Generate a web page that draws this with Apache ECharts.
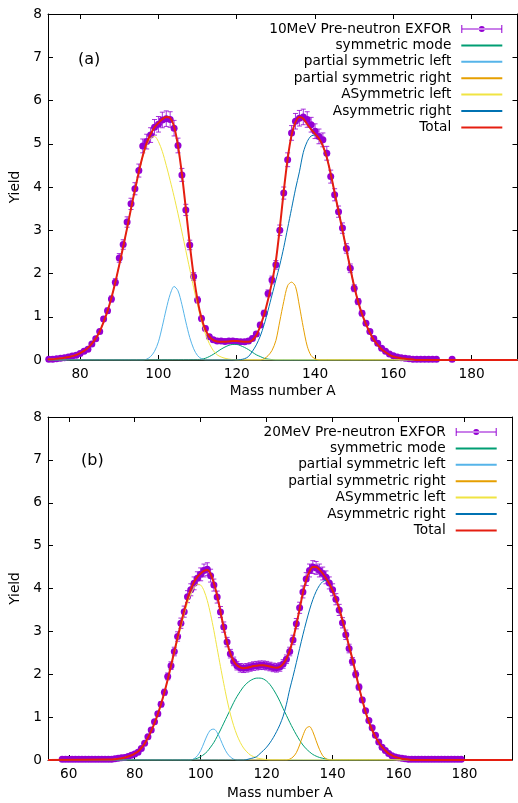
<!DOCTYPE html>
<html>
<head>
<meta charset="utf-8">
<script src="https://cdn.jsdelivr.net/npm/echarts@6/dist/echarts.min.js"></script>
<style>
html,body{margin:0;padding:0;background:#fff;}
#chart{width:518px;height:803px;}
</style>
</head>
<body>
<div id="chart"></div>
<script>
// ---------------- Panel (a): 10 MeV ----------------
const aMassStart = 72;
const aYield = [
  0.02,0.02,0.03,0.04,0.05,0.07,0.09,0.11,0.15,0.2,
  0.25,0.37,0.49,0.66,0.95,1.14,1.41,1.8,2.36,2.67,
  3.19,3.61,3.96,4.38,4.95,5.05,5.2,5.38,5.45,5.55,
  5.58,5.56,5.36,4.96,4.28,3.47,2.66,1.93,1.39,0.96,
  0.73,0.54,0.47,0.44,0.44,0.43,0.44,0.44,0.43,0.42,
  0.42,0.44,0.5,0.6,0.81,1.08,1.54,1.85,2.2,3.0,
  3.86,4.63,5.25,5.52,5.59,5.62,5.56,5.44,5.29,5.17,
  5.09,4.78,4.24,3.82,3.43,3.05,2.58,2.12,1.66,1.35,
  1.08,0.85,0.66,0.5,0.39,0.27,0.2,0.14,0.1,0.07,
  0.05,0.04,0.03,0.02,0.02,0.02,0.02,0.02,0.02,0.02
];
const aErr = [
  0.01,0.01,0.01,0.01,0.01,0.01,0.01,0.01,0.01,0.02,
  0.02,0.03,0.03,0.04,0.05,0.06,0.07,0.08,0.1,0.11,
  0.12,0.13,0.14,0.15,0.16,0.17,0.17,0.18,0.18,0.18,
  0.18,0.18,0.18,0.17,0.15,0.13,0.11,0.09,0.07,0.06,
  0.05,0.05,0.05,0.05,0.05,0.05,0.05,0.05,0.05,0.05,
  0.05,0.05,0.05,0.05,0.06,0.07,0.08,0.09,0.1,0.12,
  0.14,0.16,0.17,0.18,0.18,0.18,0.18,0.17,0.17,0.17,
  0.16,0.16,0.15,0.14,0.13,0.12,0.11,0.1,0.08,0.07,
  0.06,0.05,0.04,0.03,0.03,0.02,0.02,0.01,0.01,0.01,
  0.01,0.01,0.01,0.01,0.01,0.01,0.01,0.01,0.01,0.01
];
const aExtraMass = [175];
const aExtraYield = [0.02];
const aExtraErr = [0.01];

const aSymStart = 110;
const aSym = [0.01,0.02,0.04,0.08,0.13,0.19,0.25,0.3,0.34,0.36,
              0.36,0.33,0.29,0.24,0.18,0.12,0.08,0.04,0.02,0.01,0];
const aPsLStart = 96;
const aPsL = [0,0.02,0.08,0.2,0.42,0.78,1.18,1.52,1.7,1.6,
              1.28,0.88,0.52,0.26,0.1,0.03,0];
const aPsRStart = 126;
const aPsR = [0,0.03,0.1,0.22,0.45,0.9,1.35,1.72,1.8,1.7,
              1.25,0.75,0.32,0.1,0.03,0];
const aAsLStart = 72;
const aAsL = [
  0.02,0.02,0.03,0.04,0.05,0.07,0.09,0.12,0.16,0.21,
  0.28,0.38,0.5,0.66,0.88,1.13,1.44,1.8,2.2,2.62,
  3.05,3.5,3.93,4.33,4.7,4.97,5.13,5.17,5.05,4.82,
  4.5,4.15,3.78,3.38,2.96,2.53,2.1,1.67,1.27,0.9,
  0.6,0.38,0.22,0.12,0.07,0.04,0.02,0.01,0
];
const aAsRStart = 120;
const aAsR = [
  0,0.01,0.03,0.08,0.2,0.35,0.55,0.82,1.15,1.5,
  1.85,2.2,2.6,3.05,3.5,3.95,4.35,4.8,5.05,5.18,
  5.2,5.12,4.95,4.68,4.3,3.87,3.44,3.0,2.56,2.12,
  1.7,1.35,1.06,0.83,0.63,0.47,0.35,0.25,0.18,0.12,
  0.08,0.06,0.04,0.03,0.02,0.01,0
];
const aTotStart = 72;
const aTot = [
  0.02,0.02,0.03,0.04,0.05,0.07,0.09,0.12,0.16,0.21,
  0.28,0.38,0.5,0.66,0.88,1.13,1.44,1.8,2.2,2.62,
  3.05,3.5,3.93,4.35,4.72,5.02,5.22,5.38,5.48,5.57,
  5.62,5.6,5.4,4.95,4.3,3.5,2.68,1.95,1.38,0.97,
  0.7,0.54,0.46,0.43,0.42,0.42,0.43,0.44,0.44,0.43,
  0.42,0.42,0.46,0.57,0.78,1.05,1.4,1.8,2.3,3.05,
  3.9,4.65,5.2,5.5,5.62,5.58,5.45,5.33,5.23,5.12,
  4.95,4.68,4.3,3.87,3.44,3.0,2.56,2.12,1.7,1.35,
  1.06,0.83,0.63,0.47,0.35,0.25,0.18,0.12,0.08,0.06,
  0.04,0.03,0.02,0.01,0
];

// ---------------- Panel (b): 20 MeV ----------------
const bMassStart = 58;
const bYield = [
  0.02,0.02,0.02,0.02,0.02,0.02,0.02,0.02,0.02,0.02,
  0.02,0.02,0.02,0.02,0.02,0.02,0.03,0.04,0.05,0.06,
  0.08,0.11,0.14,0.18,0.27,0.39,0.54,0.7,0.89,1.08,
  1.3,1.58,1.95,2.2,2.53,2.88,3.19,3.46,3.81,3.97,
  4.12,4.24,4.33,4.42,4.45,4.3,4.08,3.8,3.45,3.1,
  2.75,2.48,2.3,2.2,2.15,2.14,2.15,2.17,2.19,2.2,
  2.21,2.21,2.2,2.18,2.16,2.15,2.17,2.24,2.35,2.53,
  2.8,3.18,3.55,3.92,4.22,4.42,4.5,4.48,4.42,4.35,
  4.26,4.13,3.97,3.75,3.5,3.2,2.92,2.6,2.3,2.0,
  1.7,1.4,1.15,0.92,0.75,0.58,0.42,0.3,0.22,0.15,
  0.1,0.07,0.05,0.04,0.03,0.02,0.02,0.02,0.02,0.02,
  0.02,0.02,0.02,0.02,0.02,0.02,0.02,0.02,0.02,0.02,
  0.02,0.02
];
const bErr = [
  0.01,0.01,0.01,0.01,0.01,0.01,0.01,0.01,0.01,0.01,
  0.01,0.01,0.01,0.01,0.01,0.01,0.01,0.01,0.01,0.01,
  0.01,0.01,0.01,0.01,0.02,0.02,0.03,0.04,0.04,0.05,
  0.06,0.07,0.08,0.09,0.1,0.11,0.12,0.13,0.14,0.14,
  0.15,0.15,0.15,0.15,0.15,0.15,0.14,0.14,0.13,0.12,
  0.11,0.1,0.1,0.1,0.1,0.1,0.1,0.1,0.1,0.1,
  0.1,0.1,0.1,0.1,0.1,0.1,0.1,0.1,0.1,0.1,
  0.11,0.12,0.13,0.14,0.15,0.15,0.15,0.15,0.15,0.15,
  0.15,0.14,0.14,0.13,0.13,0.12,0.11,0.1,0.09,0.08,
  0.07,0.06,0.05,0.04,0.04,0.03,0.02,0.02,0.01,0.01,
  0.01,0.01,0.01,0.01,0.01,0.01,0.01,0.01,0.01,0.01,
  0.01,0.01,0.01,0.01,0.01,0.01,0.01,0.01,0.01,0.01,
  0.01,0.01
];
const bSymStart = 97;
const bSym = [
  0,0.02,0.04,0.08,0.13,0.2,0.3,0.41,0.55,0.7,
  0.86,1.02,1.18,1.34,1.48,1.6,1.71,1.79,1.85,1.89,
  1.91,1.91,1.89,1.84,1.76,1.65,1.52,1.37,1.2,1.04,
  0.88,0.73,0.59,0.46,0.35,0.26,0.19,0.13,0.09,0.06,
  0.04,0.02,0.01,0
];
const bPsLStart = 97;
const bPsL = [0,0.03,0.1,0.22,0.4,0.58,0.7,0.72,0.64,0.48,
              0.3,0.16,0.07,0.02,0];
const bPsRStart = 126;
const bPsR = [0,0.02,0.07,0.17,0.35,0.57,0.74,0.78,0.66,0.45,
              0.25,0.1,0.03,0];
const bAsLStart = 72;
const bAsL = [
  0.01,0.01,0.02,0.03,0.04,0.06,0.08,0.11,0.15,0.2,
  0.28,0.38,0.52,0.68,0.86,1.07,1.31,1.57,1.86,2.17,
  2.48,2.8,3.1,3.4,3.66,3.87,4.02,4.1,4.08,3.95,
  3.72,3.4,3.02,2.6,2.18,1.78,1.4,1.07,0.8,0.58,
  0.41,0.28,0.19,0.12,0.08,0.05,0.03,0.02,0.01,0
];
const bAsRStart = 113;
const bAsR = [
  0,0.01,0.03,0.05,0.08,0.15,0.22,0.3,0.4,0.52,
  0.66,0.82,1.02,1.3,1.65,1.95,2.27,2.6,2.92,3.22,
  3.5,3.74,3.93,4.07,4.16,4.19,4.1,3.95,3.76,3.53,
  3.26,2.96,2.65,2.36,2.03,1.7,1.4,1.12,0.89,0.7,
  0.54,0.41,0.3,0.22,0.15,0.11,0.07,0.05,0.03,0.02,
  0.01,0
];
const bTotStart = 72;
const bTot = [
  0.01,0.01,0.02,0.03,0.04,0.06,0.08,0.11,0.15,0.2,
  0.28,0.38,0.52,0.68,0.86,1.07,1.31,1.58,1.88,2.2,
  2.53,2.86,3.18,3.48,3.76,3.98,4.15,4.27,4.35,4.41,
  4.43,4.34,4.13,3.83,3.46,3.08,2.74,2.48,2.31,2.21,
  2.16,2.14,2.15,2.17,2.19,2.2,2.21,2.21,2.2,2.18,
  2.16,2.15,2.17,2.24,2.36,2.55,2.82,3.15,3.52,3.9,
  4.2,4.4,4.5,4.5,4.44,4.35,4.24,4.11,3.95,3.76,
  3.53,3.26,2.96,2.65,2.36,2.03,1.7,1.4,1.12,0.89,
  0.7,0.54,0.41,0.3,0.22,0.15,0.11,0.07,0.05,0.03,
  0.02,0.01,0
];

// ---------------- Axes / labels ----------------
const aXRange = [71.8, 191.7];
const bXRange = [53.7, 194.4];
const aXTicks = [80, 100, 120, 140, 160, 180];
const bXTicks = [60, 80, 100, 120, 140, 160, 180];
const compNames = ['symmetric mode', 'partial symmetric left', 'partial symmetric right', 'ASymmetric left', 'Asymmetric right'];
const compColors = ['#009e73', '#56b4e9', '#e69f00', '#f0e442', '#0072b2'];
const totalName = 'Total';
const aExpName = '10MeV Pre-neutron EXFOR';
const bExpName = '20MeV Pre-neutron EXFOR';

// ---------------- helpers ----------------
const FONT = 'DejaVu Sans';
const FS = 13.7;
function pairs(start, vals) { return vals.map((v, i) => [start + i, v]); }
function padded(start, vals, range) {
  return [[range[0], 0]].concat(pairs(start, vals), [[range[1], 0]]);
}

const aPts = pairs(aMassStart, aYield).map((p, i) => [p[0], p[1], aErr[i]])
  .concat(aExtraMass.map((m, i) => [m, aExtraYield[i], aExtraErr[i]]));
const bPts = pairs(bMassStart, bYield).map((p, i) => [p[0], p[1], bErr[i]]);

const EXP_COLOR = '#9400d3';
const expIcon = 'path://M0,3L1,3L1,6.5L40,6.5L40,3L41,3L41,11L40,11L40,7.5L1,7.5L1,11L0,11Z M17.5,7A3,3 0 1,0 23.5,7A3,3 0 1,0 17.5,7Z';

function errRender(params, api) {
  const x = api.value(0), y = api.value(1), e = api.value(2);
  const t = api.coord([x, y + e]);
  const b = api.coord([x, y - e]);
  const cw = 2.5;
  const st = { stroke: EXP_COLOR, lineWidth: 1, opacity: 0.8 };
  return {
    type: 'group',
    children: [
      { type: 'line', shape: { x1: t[0], y1: t[1], x2: b[0], y2: b[1] }, style: st },
      { type: 'line', shape: { x1: t[0] - cw, y1: t[1], x2: t[0] + cw, y2: t[1] }, style: st },
      { type: 'line', shape: { x1: b[0] - cw, y1: b[1], x2: b[0] + cw, y2: b[1] }, style: st }
    ]
  };
}

function panelSeries(gi, expName, pts, comps, tot, range) {
  const s = [];
  s.push({
    type: 'custom', name: expName, xAxisIndex: gi * 2, yAxisIndex: gi * 2,
    data: pts, encode: { x: 0, y: 1 }, renderItem: errRender, clip: true,
    itemStyle: { color: EXP_COLOR }, silent: true
  });
  s.push({
    type: 'scatter', name: expName, xAxisIndex: gi * 2, yAxisIndex: gi * 2,
    data: pts.map(p => [p[0], p[1]]), symbol: 'circle', symbolSize: 7,
    itemStyle: { color: EXP_COLOR, opacity: 1 }, silent: true
  });
  comps.forEach((c, k) => {
    s.push({
      type: 'line', name: compNames[k], xAxisIndex: gi * 2, yAxisIndex: gi * 2,
      data: padded(c[0], c[1], range), symbol: 'none', smooth: 0.3,
      lineStyle: { color: compColors[k], width: 1 }, itemStyle: { color: compColors[k] }, silent: true
    });
  });
  s.push({
    type: 'line', name: totalName, xAxisIndex: gi * 2, yAxisIndex: gi * 2,
    data: padded(tot[0], tot[1], range), symbol: 'none', smooth: 0.3,
    lineStyle: { color: '#e51e10', width: 2 }, itemStyle: { color: '#e51e10' }, silent: true
  });
  return s;
}

function xAxes(gi, range, ticks, nameGap) {
  const base = {
    gridIndex: gi, type: 'value', min: range[0], max: range[1],
    splitLine: { show: false },
    axisLine: { show: true, onZero: false, lineStyle: { color: '#000', width: 1 } }
  };
  return [
    Object.assign({}, base, {
      position: 'bottom',
      axisTick: { show: true, inside: true, length: 5, lineStyle: { color: '#000' }, customValues: ticks },
      axisLabel: { show: true, customValues: ticks, color: '#000', fontSize: FS, fontFamily: FONT, margin: 7 },
      name: 'Mass number A', nameLocation: 'middle', nameGap: nameGap,
      nameTextStyle: { color: '#000', fontSize: FS, fontFamily: FONT }
    }),
    Object.assign({}, base, {
      position: 'top',
      axisTick: { show: true, inside: true, length: 5, lineStyle: { color: '#000' }, customValues: ticks },
      axisLabel: { show: false }
    })
  ];
}
function yAxes(gi) {
  const base = {
    gridIndex: gi, type: 'value', min: 0, max: 8, interval: 1,
    splitLine: { show: false },
    axisLine: { show: true, onZero: false, lineStyle: { color: '#000', width: 1 } },
    axisTick: { show: true, inside: true, length: 5, lineStyle: { color: '#000' } }
  };
  return [
    Object.assign({}, base, {
      position: 'left',
      axisLabel: { show: true, color: '#000', fontSize: FS, fontFamily: FONT, margin: 6 },
      name: 'Yield', nameLocation: 'middle', nameGap: 22, nameRotate: 90,
      nameTextStyle: { color: '#000', fontSize: FS, fontFamily: FONT }
    }),
    Object.assign({}, base, { position: 'right', axisLabel: { show: false } })
  ];
}

function legendFor(expName, right, top) {
  const lineItems = compNames.concat([totalName]).map(n => ({ name: n, itemStyle: { opacity: 0 } }));
  return {
    orient: 'vertical', align: 'right', right: right, top: top, padding: 0,
    itemWidth: 41, itemHeight: 14, itemGap: 2.4, selectedMode: false,
    textStyle: { color: '#000', fontSize: FS, fontFamily: FONT, padding: [0, 5, 0, 0] },
    data: [{ name: expName, icon: expIcon }].concat(lineItems)
  };
}

const chart = echarts.init(document.getElementById('chart'), null, { renderer: 'canvas' });
chart.setOption({
  animation: false,
  backgroundColor: '#fff',
  grid: [
    { left: 48, top: 14, width: 469.5, height: 346, show: false },
    { left: 48, top: 417, width: 464, height: 343, show: false }
  ],
  xAxis: xAxes(0, aXRange, aXTicks, 24).concat(xAxes(1, bXRange, bXTicks, 26)),
  yAxis: yAxes(0).concat(yAxes(1)),
  legend: [legendFor(aExpName, 14.7, 22), legendFor(bExpName, 20.3, 425)],
  graphic: [
    { type: 'text', x: 78, y: 60, style: { text: '(a)', font: '16px "DejaVu Sans"', fill: '#000', verticalAlign: 'middle' } },
    { type: 'text', x: 81, y: 461, style: { text: '(b)', font: '16px "DejaVu Sans"', fill: '#000', verticalAlign: 'middle' } }
  ],
  series: panelSeries(0, aExpName, aPts,
      [[aSymStart, aSym], [aPsLStart, aPsL], [aPsRStart, aPsR], [aAsLStart, aAsL], [aAsRStart, aAsR]],
      [aTotStart, aTot], aXRange)
    .concat(panelSeries(1, bExpName, bPts,
      [[bSymStart, bSym], [bPsLStart, bPsL], [bPsRStart, bPsR], [bAsLStart, bAsL], [bAsRStart, bAsR]],
      [bTotStart, bTot], bXRange))
});
</script>
</body>
</html>
